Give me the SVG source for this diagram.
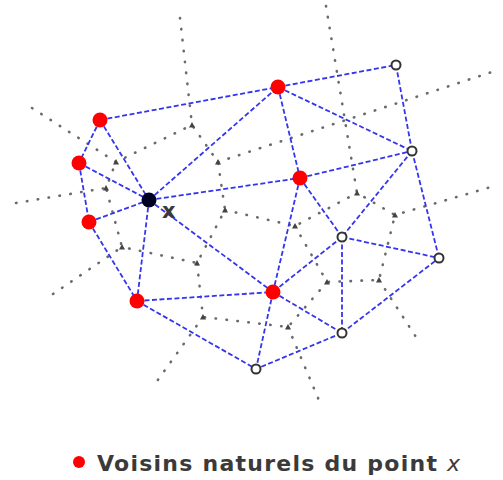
<svg xmlns="http://www.w3.org/2000/svg" xmlns:xlink="http://www.w3.org/1999/xlink" width="503" height="480" viewBox="0 0 503 480">
<style>
.vor{fill:none;stroke:#6a6a6a;stroke-width:2.6;stroke-dasharray:0.5 10.5;stroke-linecap:round}
.del{fill:none;stroke:#3535ee;stroke-width:1.8;stroke-dasharray:5 2.5}
.red{fill:#ff0000}
.hol{fill:#fff;stroke:#333;stroke-width:2}
.lbl{font-family:"DejaVu Sans",sans-serif;font-weight:bold;fill:#3a3a3a}
</style>
<defs>
<path id="vt" d="M0,-3 L3,2.5 L-3,2.5 Z" fill="#444"/>
</defs>
<rect width="503" height="480" fill="#fff"/>
<g id="voronoi">
<polyline class="vor" points="32,108 116,162 192,125 218,162 225,210 197,263 122,247 106,188 116,162"/>
<polyline class="vor" points="180,18 192,125"/>
<polyline class="vor" points="16,203 106,188"/>
<polyline class="vor" points="53,294 122,247"/>
<polyline class="vor" points="218,162 343,121 498,70"/>
<polyline class="vor" points="326,6 357,193 395,215 498,185"/>
<polyline class="vor" points="225,210 295,226 357,193"/>
<polyline class="vor" points="295,226 327,282 379,280 395,215"/>
<polyline class="vor" points="379,280 416,337"/>
<polyline class="vor" points="327,282 288,327 203,317 197,263"/>
<polyline class="vor" points="288,327 321,405"/>
<polyline class="vor" points="203,317 155,384"/>
<use xlink:href="#vt" x="116" y="162"/><use xlink:href="#vt" x="192" y="125"/><use xlink:href="#vt" x="218" y="162"/>
<use xlink:href="#vt" x="106" y="188"/><use xlink:href="#vt" x="122" y="247"/><use xlink:href="#vt" x="197" y="263"/>
<use xlink:href="#vt" x="225" y="210"/><use xlink:href="#vt" x="295" y="226"/><use xlink:href="#vt" x="357" y="193"/>
<use xlink:href="#vt" x="395" y="215"/><use xlink:href="#vt" x="379" y="280"/><use xlink:href="#vt" x="327" y="282"/>
<use xlink:href="#vt" x="288" y="327"/><use xlink:href="#vt" x="203" y="317"/>
</g>
<g id="connectors">
<line class="del" x1="100" y1="120" x2="278" y2="87"/>
<line class="del" x1="100" y1="120" x2="79" y2="163"/>
<line class="del" x1="100" y1="120" x2="149" y2="200"/>
<line class="del" x1="79" y1="163" x2="149" y2="200"/>
<line class="del" x1="79" y1="163" x2="89" y2="222"/>
<line class="del" x1="89" y1="222" x2="149" y2="200"/>
<line class="del" x1="89" y1="222" x2="137" y2="301"/>
<line class="del" x1="149" y1="200" x2="137" y2="301"/>
<line class="del" x1="149" y1="200" x2="278" y2="87"/>
<line class="del" x1="149" y1="200" x2="300" y2="178"/>
<line class="del" x1="149" y1="200" x2="273" y2="292"/>
<line class="del" x1="137" y1="301" x2="273" y2="292"/>
<line class="del" x1="137" y1="301" x2="256" y2="369"/>
<line class="del" x1="278" y1="87" x2="396" y2="65"/>
<line class="del" x1="278" y1="87" x2="300" y2="178"/>
<line class="del" x1="278" y1="87" x2="412" y2="151"/>
<line class="del" x1="300" y1="178" x2="412" y2="151"/>
<line class="del" x1="300" y1="178" x2="273" y2="292"/>
<line class="del" x1="300" y1="178" x2="342" y2="237"/>
<line class="del" x1="396" y1="65" x2="412" y2="151"/>
<line class="del" x1="412" y1="151" x2="342" y2="237"/>
<line class="del" x1="412" y1="151" x2="439" y2="258"/>
<line class="del" x1="342" y1="237" x2="439" y2="258"/>
<line class="del" x1="342" y1="237" x2="273" y2="292"/>
<line class="del" x1="342" y1="237" x2="342" y2="333"/>
<line class="del" x1="273" y1="292" x2="342" y2="333"/>
<line class="del" x1="273" y1="292" x2="256" y2="369"/>
<line class="del" x1="342" y1="333" x2="256" y2="369"/>
<line class="del" x1="342" y1="333" x2="439" y2="258"/>
</g>
<g id="nA"><circle class="red" cx="100" cy="120" r="7.5"/></g>
<g id="nB"><circle class="red" cx="79" cy="163" r="7.5"/></g>
<g id="nC"><circle class="red" cx="89" cy="222" r="7.5"/></g>
<g id="nD"><circle class="red" cx="137" cy="301" r="7.5"/></g>
<g id="nE"><circle class="red" cx="278" cy="87" r="7.5"/></g>
<g id="nF"><circle class="red" cx="300" cy="178" r="7.5"/></g>
<g id="nG"><circle class="red" cx="273" cy="292" r="7.5"/></g>
<g id="nX"><circle cx="149" cy="200" r="7.5" fill="#000022"/><text class="lbl" x="162" y="218" font-size="21" fill="#444">x</text></g>
<g id="nH"><circle class="hol" cx="396" cy="65" r="4.5"/></g>
<g id="nI"><circle class="hol" cx="412" cy="151" r="4.5"/></g>
<g id="nJ"><circle class="hol" cx="342" cy="237" r="4.5"/></g>
<g id="nK"><circle class="hol" cx="439" cy="258" r="4.5"/></g>
<g id="nL"><circle class="hol" cx="342" cy="333" r="4.5"/></g>
<g id="nM"><circle class="hol" cx="256" cy="369" r="4.5"/></g>
<g id="legend">
<circle class="red" cx="79" cy="462" r="6"/>
<text class="lbl" x="97" y="471" font-size="22" letter-spacing="1.25">Voisins naturels du point <tspan font-style="italic" font-weight="normal">x</tspan></text>
</g>
</svg>
